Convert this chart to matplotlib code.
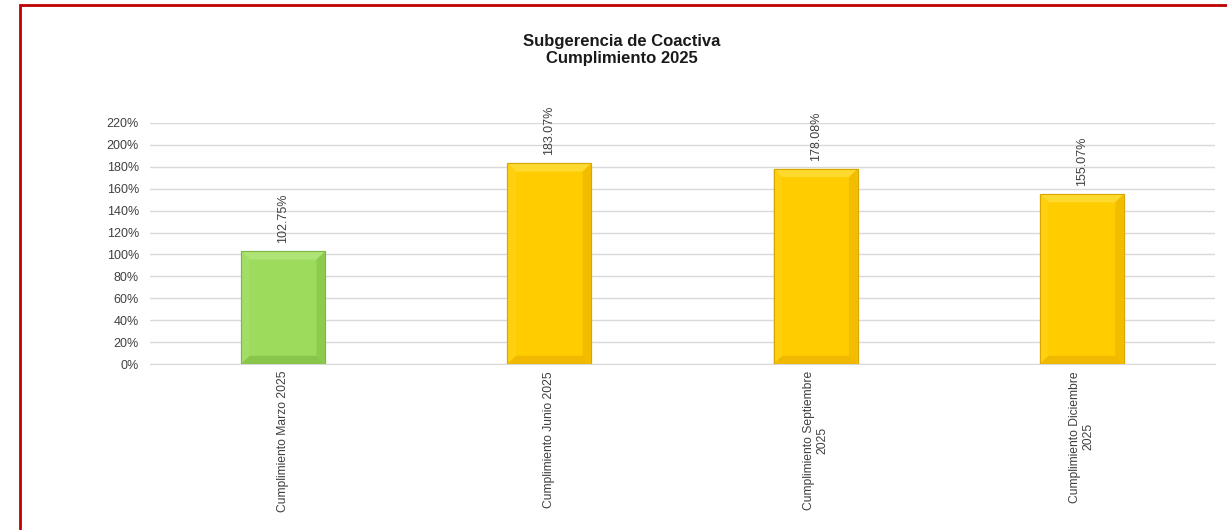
import matplotlib
matplotlib.use("Agg")
import matplotlib.pyplot as plt
from matplotlib.patches import Polygon, Rectangle
from matplotlib.ticker import FuncFormatter, MultipleLocator
import numpy as np

plt.rcParams["font.family"] = ["Liberation Sans", "DejaVu Sans"]

categories = [
    "Cumplimiento Marzo 2025",
    "Cumplimiento Junio 2025",
    "Cumplimiento Septiembre\n2025",
    "Cumplimiento Diciembre\n2025",
]
values = [1.0275, 1.8307, 1.7808, 1.5507]
labels = ["102.75%", "183.07%", "178.08%", "155.07%"]
face_colors = ["#9CDB5C", "#FFCC00", "#FFCC00", "#FFCC00"]
edge_colors = ["#7CB842", "#D9A800", "#D9A800", "#D9A800"]
top_colors = ["#AEE375", "#FFD92E", "#FFD92E", "#FFD92E"]
left_colors = ["#A2DE65", "#FFD010", "#FFD010", "#FFD010"]
right_colors = ["#8CCB4E", "#F2BC00", "#F2BC00", "#F2BC00"]
bottom_colors = ["#88C64B", "#F0B900", "#F0B900", "#F0B900"]

fig = plt.figure(figsize=(12.27, 5.30), dpi=100)
ax = fig.add_axes([0.1222, 0.3132, 0.8680, 0.4548])

x = np.arange(len(categories))
width = 0.315
bars = ax.bar(x, values, width=width, color=face_colors, edgecolor=edge_colors,
              linewidth=0.8, zorder=2)

# bevel look, light on top, darker on the right and bottom
bx, by = 0.032, 0.075
for bar, tc, lc, rc, bc in zip(bars, top_colors, left_colors, right_colors, bottom_colors):
    x0, w, h = bar.get_x(), bar.get_width(), bar.get_height()
    x1 = x0 + w
    shapes = [
        ([(x0, h), (x1, h), (x1 - bx, h - by), (x0 + bx, h - by)], tc),
        ([(x0, 0), (x0, h), (x0 + bx, h - by), (x0 + bx, by)], lc),
        ([(x1, 0), (x1, h), (x1 - bx, h - by), (x1 - bx, by)], rc),
        ([(x0, 0), (x1, 0), (x1 - bx, by), (x0 + bx, by)], bc),
    ]
    for pts, col in shapes:
        ax.add_patch(Polygon(pts, closed=True, facecolor=col, edgecolor="none", zorder=3))
    ax.add_patch(Rectangle((x0, 0), w, h, fill=False, edgecolor=bar.get_edgecolor(),
                           linewidth=0.8, zorder=4))

for xi, v, lab in zip(x, values, labels):
    ax.annotate(lab, (xi, v), xytext=(0, 6), textcoords="offset points",
                rotation=90, ha="center", va="bottom", fontsize=9, color="#404040")

ax.set_xlim(-0.5, len(categories) - 0.5)
ax.set_ylim(0, 2.2)
ax.yaxis.set_major_locator(MultipleLocator(0.2))
ax.yaxis.set_major_formatter(FuncFormatter(lambda v, _: f"{v * 100:.0f}%"))
ax.grid(axis="y", color="#D9D9D9", linewidth=1, zorder=0)
ax.set_axisbelow(True)
for s in ("top", "right", "left"):
    ax.spines[s].set_visible(False)
ax.spines["bottom"].set_color("#D9D9D9")
ax.tick_params(axis="both", length=0, colors="#404040")
ax.tick_params(axis="y", pad=8, labelsize=9)
ax.tick_params(axis="x", pad=5, labelsize=8.7)
ax.set_xticks(x)
ax.set_xticklabels(categories, rotation=90, ha="center", va="top", multialignment="center")

fig.text(0.507, 0.906, "Subgerencia de Coactiva\nCumplimiento 2025", ha="center", va="center",
         fontsize=12, fontweight="bold", color="#1A1A1A", linespacing=1.15)

fig.patches.append(Rectangle((20 / 1227, -0.05), 1.1, 1 - 5 / 530 + 0.05,
                             transform=fig.transFigure, fill=False,
                             edgecolor="#C00000", linewidth=2, clip_on=False))

fig.savefig("out.png", dpi=100)
